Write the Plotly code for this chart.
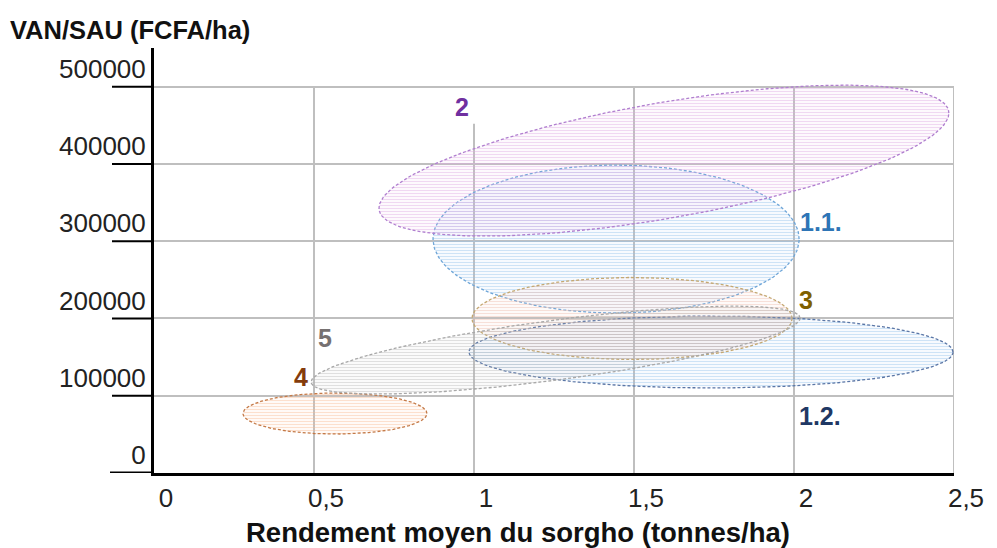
import numpy as np
import plotly.graph_objects as go

# groups of farms: yield range (x) and VAN/SAU range (y)
groups = ["1.1.", "1.2.", "2", "3", "4", "5"]
x_min = [0.872, 0.984, 0.703, 0.994, 0.278, 0.491]
x_max = [2.016, 2.497, 2.484, 1.994, 0.853, 2.019]
y_min = [207000, 110000, 306600, 146900, 50450, 102200]
y_max = [398500, 203100, 501900, 253000, 103500, 216000]
# value at the right-hand tip of each ellipse (gives the tilt)
y_right = [302700, 156500, 465700, 200000, 77000, 200500]

label_x = [2.084, 2.081, 0.961, 2.038, 0.459, 0.534]
label_y = [324700, 74400, 473500, 223800, 123600, 175300]

x_ticks = [0, 0.5, 1, 1.5, 2, 2.5]
x_ticktext = ["0", "0,5", "1", "1,5", "2", "2,5"]
y_ticks = [0, 100000, 200000, 300000, 400000, 500000]

line_colors = ["#6fa6d8", "#5a76a6", "#b07fcf", "#c4a872", "#c47a48", "#a8a8a8"]
hatch_colors = ["rgba(145,192,235,0.9)", "rgba(145,192,235,0.9)", "rgba(222,168,226,0.9)",
                "rgba(238,186,170,0.9)", "rgba(248,186,145,0.9)", "rgba(180,180,180,0.85)"]
label_colors = ["#2e75b6", "#1f3864", "#7030a0", "#7f6000", "#843c0c", "#767171"]


def ellipse(x0, x1, y0, y1, yr, n=200):
    cx, cy = (x0 + x1) / 2, (y0 + y1) / 2
    hx, hy = (x1 - x0) / 2, (y1 - y0) / 2
    phi = np.arccos(np.clip((yr - cy) / hy, -1, 1))
    t = np.linspace(0, 2 * np.pi, n)
    return cx + hx * np.cos(t), cy + hy * np.cos(t - phi)


fig = go.Figure()

for i, g in enumerate(groups):
    ex, ey = ellipse(x_min[i], x_max[i], y_min[i], y_max[i], y_right[i])
    fig.add_trace(go.Scatter(
        x=ex, y=ey, mode="lines", fill="toself",
        fillcolor="rgba(255,255,255,0)",
        fillpattern=dict(shape="-", size=3, solidity=0.45,
                         fgcolor=hatch_colors[i], bgcolor="rgba(0,0,0,0)"),
        line=dict(color=line_colors[i], width=1.3, dash="3px,2px"),
        name=g, showlegend=False, hoverinfo="skip",
    ))
    fig.add_annotation(
        x=label_x[i], y=label_y[i], text=f"<b>{g}</b>", showarrow=False,
        font=dict(size=25, color=label_colors[i], family="Liberation Sans"),
    )

# vertical grid lines (they stop at the 500000 line)
for xv in x_ticks[1:]:
    top = 452000 if xv == 1 else 500000
    fig.add_shape(type="line", x0=xv, x1=xv, y0=0, y1=top, layer="below",
                  line=dict(color="#bfbfbf", width=2))

# long black tick marks left of the y axis
for yv in y_ticks:
    fig.add_shape(type="line", xref="paper", x0=-0.055 if yv == 0 else -0.0525, x1=0,
                  y0=yv, y1=yv, line=dict(color="black", width=2 if yv else 3))

fig.add_annotation(
    text="<b>Rendement moyen du sorgho (tonnes/ha)</b>", xref="paper", yref="paper",
    x=0.455, y=-0.139, showarrow=False, xanchor="center", yanchor="middle",
    font=dict(size=27.5, color="#111", family="Liberation Sans"),
)
fig.add_annotation(
    text="<b>VAN/SAU (FCFA/ha)</b>", xref="paper", yref="paper",
    x=-0.182, y=1.042, showarrow=False, xanchor="left", yanchor="middle",
    font=dict(size=25.5, color="#111", family="Liberation Sans"),
)

# the page body has an 8px margin, so the figure is drawn 8px smaller
fig.update_layout(
    width=989, height=540,
    margin=dict(l=146, r=43, t=40, b=75),
    paper_bgcolor="white", plot_bgcolor="white",
    font=dict(family="Liberation Sans", size=26, color="#222"),
    xaxis=dict(
        range=[0, 2.5], tickvals=x_ticks, ticktext=x_ticktext, automargin=False,
        showgrid=False, zeroline=False, showline=True, linecolor="black",
        linewidth=3, ticks="", ticklabelshift=12, ticklabelstandoff=0,
    ),
    yaxis=dict(
        range=[0, 550000], tickvals=y_ticks, tickformat="d", automargin=False,
        showgrid=True, gridcolor="#bfbfbf", gridwidth=2, zeroline=False,
        showline=True, linecolor="black", linewidth=3, ticks="",
        ticklabelshift=-18, ticklabelstandoff=0,
    ),
)

fig.write_html("out.html")
